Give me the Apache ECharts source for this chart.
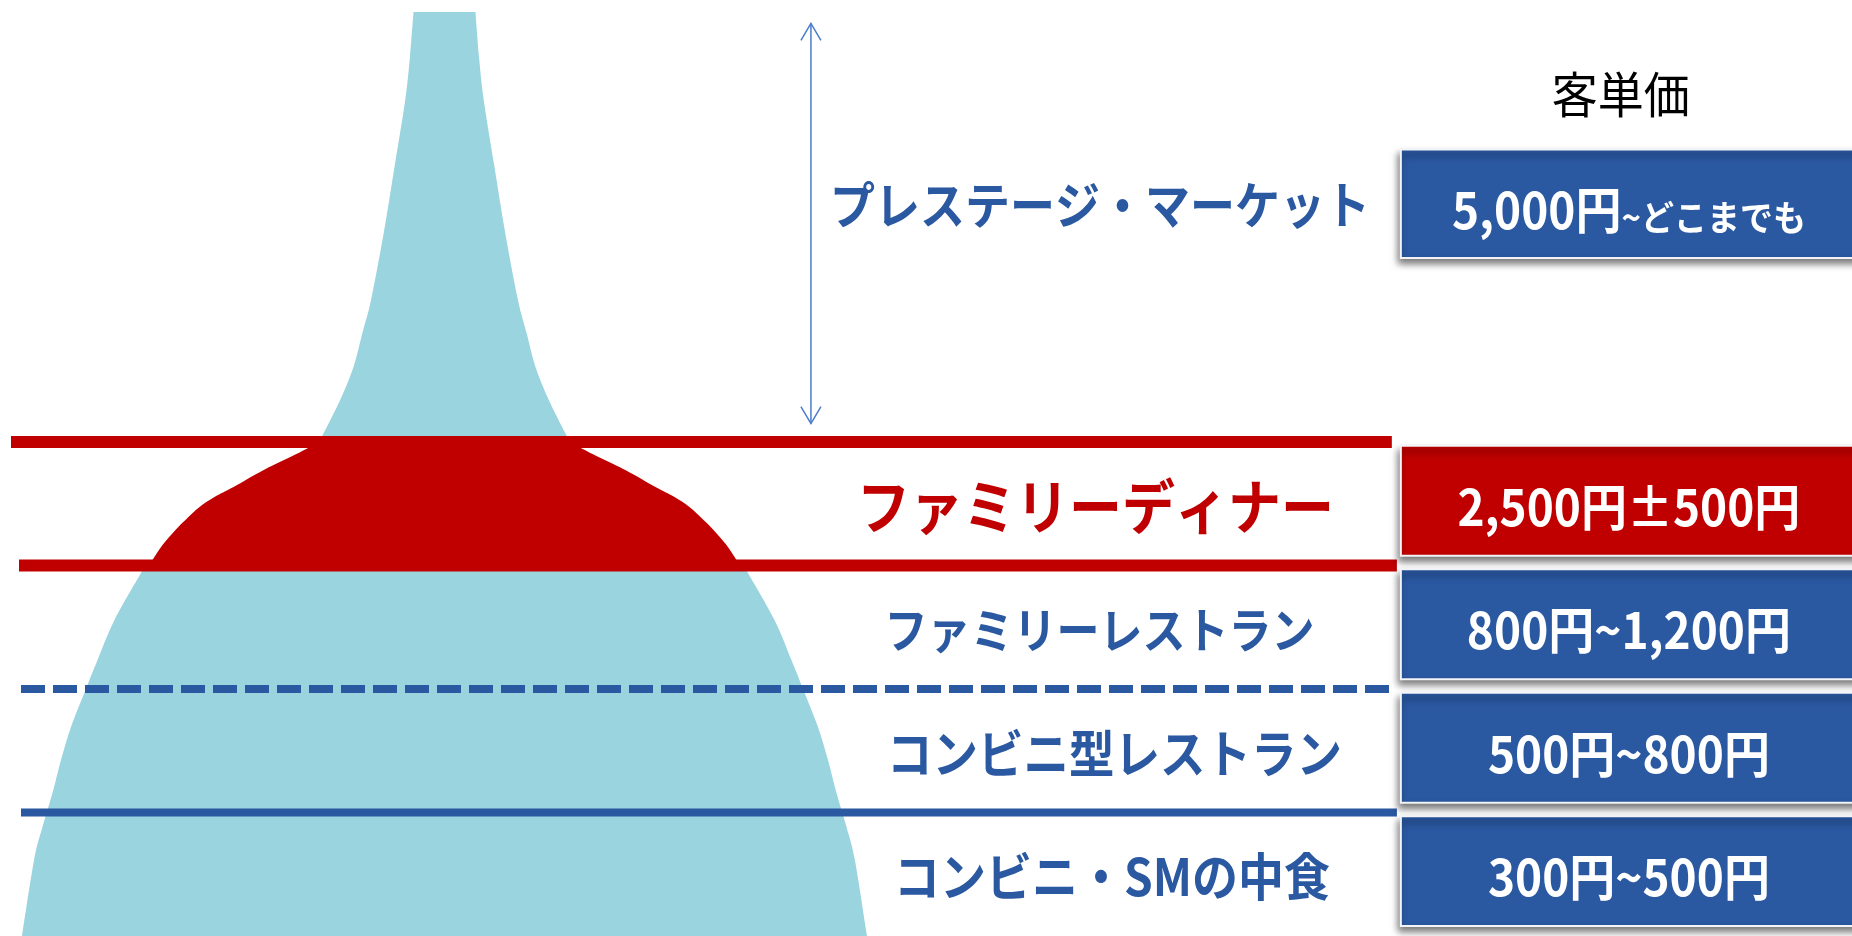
<!DOCTYPE html>
<html>
<head>
<meta charset="utf-8">
<script src="https://cdn.jsdelivr.net/npm/echarts@6/dist/echarts.min.js"></script>
<style>
html,body{margin:0;padding:0;background:#ffffff;}
#chart{width:1852px;height:936px;}
</style>
</head>
<body>
<div id="chart"></div>
<script>
// ---------------- data ----------------
const tierNames = ['プレステージ・マーケット', 'ファミリーディナー', 'ファミリーレストラン', 'コンビニ型レストラン', 'コンビニ・SMの中食'];
const tierPrices = ['5,000円~どこまでも', '2,500円±500円', '800円~1,200円', '500円~800円', '300円~500円'];
const headerLabels = ['客単価'];
// tier boundary levels (bottom of chart = 0, one level per tier)
const boundaryLevels = [4, 3, 2, 1];
// lower level of each tier band
const tierBase = [4, 3, 2, 1, 0];
// market silhouette, upper spike (prestige): level -> half width
const peakLevel = [7.483, 7.127, 6.770, 6.228, 5.693, 5.151, 4.883, 4.608, 4.341, 4.073, 3.976];
const peakHalfWidth = [0.251, 0.279, 0.318, 0.405, 0.492, 0.595, 0.665, 0.737, 0.845, 0.978, 1.03];
// market silhouette, lower mass (below the family-dinner band)
const massLevel = [3.029, 2.940, 2.559, 2.235, 1.993, 1.693, 1.425, 1.158, 0.883, 0.615, 0];
const massHalfWidth = [2.405, 2.458, 2.673, 2.810, 2.907, 3.025, 3.106, 3.175, 3.256, 3.324, 3.422];
// family dinner bulge: level -> half width
const dinnerLevel = [4.017, 3.952, 3.774, 3.636, 3.555, 3.474, 3.369, 3.288, 3.166, 3.045, 2.989];
const dinnerHalfWidth = [1.037, 1.105, 1.464, 1.709, 1.863, 1.984, 2.098, 2.179, 2.284, 2.365, 2.405];
// prestige market span shown by the double arrow
const prestigeSpan = [4.15, 7.39];

// ---------------- styling ----------------
const C_LIGHT = '#99D4DF';
const C_RED = '#C00000';
const C_BLUE = '#2A58A1';
const C_ARROW = '#4A7CCB';
const CJK = "'Noto Sans CJK JP', 'Noto Sans', sans-serif";

const chart = echarts.init(document.getElementById('chart'), null, {renderer: 'canvas'});

// Catmull-Rom through the given pixel points -> cubic bezier path commands (no initial M)
function curveThrough(pts) {
  let d = '';
  for (let i = 0; i < pts.length - 1; i++) {
    const p0 = pts[Math.max(0, i - 1)], p1 = pts[i], p2 = pts[i + 1], p3 = pts[Math.min(pts.length - 1, i + 2)];
    const c1 = [p1[0] + (p2[0] - p0[0]) / 6, p1[1] + (p2[1] - p0[1]) / 6];
    const c2 = [p2[0] - (p3[0] - p1[0]) / 6, p2[1] - (p3[1] - p1[1]) / 6];
    d += ' C' + c1[0].toFixed(2) + ' ' + c1[1].toFixed(2) + ' ' + c2[0].toFixed(2) + ' ' + c2[1].toFixed(2) + ' ' + p2[0].toFixed(2) + ' ' + p2[1].toFixed(2);
  }
  return d;
}

function silhouette(levels, halfWidths, color) {
  return function (params, api) {
    if (params.dataIndex !== 0) return null;
    const left = levels.map((l, i) => api.coord([-halfWidths[i], l]));
    const right = levels.map((l, i) => api.coord([halfWidths[i], l])).reverse();
    let d = 'M' + left[0][0] + ' ' + left[0][1] + curveThrough(left);
    d += ' L' + right[0][0] + ' ' + right[0][1] + curveThrough(right) + ' Z';
    return {type: 'path', shape: {pathData: d}, style: {fill: color}};
  };
}

const lineStyles = [
  {x0: -3.511, x1: 7.673, color: C_RED, width: 12, dash: null},
  {x0: -3.446, x1: 7.714, color: C_RED, width: 12, dash: null},
  {x0: -3.43, x1: 7.666, color: C_BLUE, width: 8, dash: [24, 8]},
  {x0: -3.43, x1: 7.714, color: C_BLUE, width: 8, dash: null}
];

const labelX = [5.309, 5.272, 5.305, 5.426, 5.406];
const labelStyles = [
  {color: C_BLUE, size: 45},
  {color: C_RED, size: 53},
  {color: C_BLUE, size: 43},
  {color: C_BLUE, size: 45.5},
  {color: C_BLUE, size: 46}
];

function boxRange(i) {
  if (i === 0) return [5.49, 6.37];
  return [tierBase[i] + 0.08, tierBase[i] + 0.97];
}

function priceText(s) {
  // small kana tail after the tilde when it is not a number
  const k = s.indexOf('~');
  if (k >= 0 && /[\u3040-\u309f]/.test(s.slice(k))) {
    return '{a|' + s.slice(0, k) + '}{b|' + s.slice(k) + '}';
  }
  return '{a|' + s + '}';
}

const option = {
  animation: false,
  grid: {left: 0, right: 0, top: 0, bottom: 0, containLabel: false},
  xAxis: {type: 'value', min: -3.6, max: 11.4, show: false},
  yAxis: {type: 'value', min: 0, max: 7.58, show: false},
  series: [
    {
      name: 'prestige', type: 'custom', silent: true, z: 1, clip: false,
      data: peakLevel.map((l, i) => [peakHalfWidth[i], l]),
      renderItem: silhouette(peakLevel, peakHalfWidth, C_LIGHT)
    },
    {
      name: 'mass', type: 'custom', silent: true, z: 1, clip: false,
      data: massLevel.map((l, i) => [massHalfWidth[i], l]),
      renderItem: silhouette(massLevel, massHalfWidth, C_LIGHT)
    },
    {
      name: 'dinner', type: 'custom', silent: true, z: 2, clip: false,
      data: dinnerLevel.map((l, i) => [dinnerHalfWidth[i], l]),
      renderItem: silhouette(dinnerLevel, dinnerHalfWidth, C_RED)
    },
    {
      name: 'boundaries', type: 'custom', silent: true, z: 3, clip: false,
      data: boundaryLevels.map(v => [0, v]),
      renderItem: function (params, api) {
        const s = lineStyles[params.dataIndex];
        const lv = api.value(1);
        const p0 = api.coord([s.x0, lv]);
        const p1 = api.coord([s.x1, lv]);
        return {
          type: 'line',
          shape: {x1: p0[0], y1: p0[1], x2: p1[0], y2: p1[1]},
          style: {stroke: s.color, lineWidth: s.width, lineDash: s.dash, lineCap: 'butt'}
        };
      }
    },
    {
      name: 'arrow', type: 'custom', silent: true, z: 3, clip: false,
      data: [[2.968, prestigeSpan[0], prestigeSpan[1]]],
      renderItem: function (params, api) {
        const top = api.coord([api.value(0), api.value(2)]);
        const bot = api.coord([api.value(0), api.value(1)]);
        const hw = 10, hl = 17;
        const st = {stroke: C_ARROW, lineWidth: 1.5, fill: null};
        return {
          type: 'group',
          children: [
            {type: 'line', shape: {x1: top[0], y1: top[1], x2: bot[0], y2: bot[1]}, style: st},
            {type: 'polyline', shape: {points: [[top[0] - hw, top[1] + hl], [top[0], top[1]], [top[0] + hw, top[1] + hl]]}, style: st},
            {type: 'polyline', shape: {points: [[bot[0] - hw, bot[1] - hl], [bot[0], bot[1]], [bot[0] + hw, bot[1] - hl]]}, style: st}
          ]
        };
      }
    },
    {
      name: 'prices', type: 'custom', silent: true, z: 4, clip: false,
      data: tierPrices.map((t, i) => [i, t]),
      renderItem: function (params, api) {
        const i = params.dataIndex;
        const r = boxRange(i);
        const tl = api.coord([7.746, r[1]]);
        const br = api.coord([11.6, r[0]]);
        const c = api.coord([9.593, (r[0] + r[1]) / 2]);
        return {
          type: 'group',
          children: [
            {
              type: 'rect',
              shape: {x: tl[0], y: tl[1], width: br[0] - tl[0], height: br[1] - tl[1]},
              style: {
                fill: i === 1 ? C_RED : C_BLUE,
                stroke: '#F2F4F8', lineWidth: 2,
                shadowColor: 'rgba(0,0,0,0.55)', shadowBlur: 7, shadowOffsetX: -2, shadowOffsetY: 5
              }
            },
            {
              type: 'text', x: c[0], y: c[1] + 1, scaleY: 1.08,
              style: {
                text: priceText(tierPrices[i]), align: 'center', verticalAlign: 'middle',
                rich: {
                  a: {fill: '#ffffff', fontSize: 46, fontWeight: 'bold', fontFamily: CJK, verticalAlign: 'bottom', lineHeight: 56},
                  b: {fill: '#ffffff', fontSize: 33, fontWeight: 'bold', fontFamily: CJK, verticalAlign: 'bottom', lineHeight: 48}
                }
              }
            }
          ]
        };
      }
    },
    {
      name: 'tiers', type: 'custom', silent: true, z: 5, clip: false,
      data: tierNames.map((t, i) => [i, t]),
      renderItem: function (params, api) {
        const i = params.dataIndex;
        const lv = i === 0 ? 5.92 : tierBase[i] + 0.48;
        const p = api.coord([labelX[i], lv]);
        const s = labelStyles[i];
        return {
          type: 'text', x: p[0], y: p[1], scaleY: 1.12,
          style: {
            text: tierNames[i], fill: s.color, fontSize: s.size, fontWeight: 'bold',
            fontFamily: CJK, align: 'center', verticalAlign: 'middle'
          }
        };
      }
    },
    {
      name: 'header', type: 'custom', silent: true, z: 5, clip: false,
      data: [[9.528, 6.819]],
      renderItem: function (params, api) {
        const p = api.coord([api.value(0), api.value(1)]);
        return {
          type: 'text', x: p[0], y: p[1], scaleY: 1.06,
          style: {
            text: headerLabels[0], fill: '#000000', fontSize: 46, fontWeight: 'normal',
            fontFamily: CJK, align: 'center', verticalAlign: 'middle'
          }
        };
      }
    }
  ]
};
chart.setOption(option);
</script>
</body>
</html>
